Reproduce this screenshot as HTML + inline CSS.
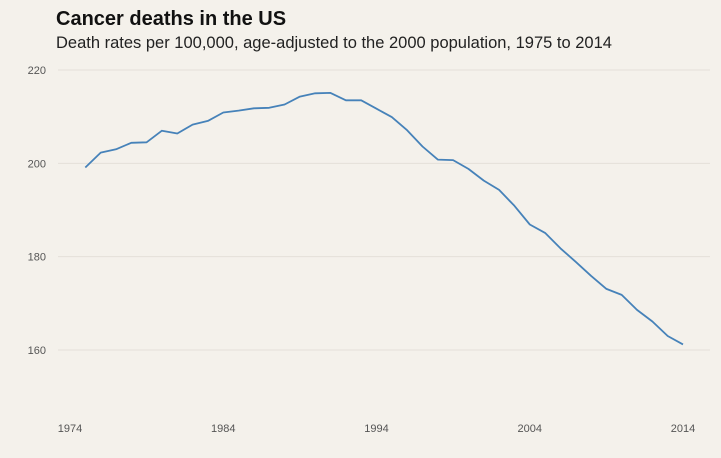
<!DOCTYPE html>
<html><head><meta charset="utf-8"><style>
html,body{margin:0;padding:0;background:#f4f1eb;}
svg{display:block;font-family:"Liberation Sans",sans-serif;}
</style></head><body>
<svg id="chart" width="721" height="458" viewBox="0 0 721 458">
<rect width="721" height="458" fill="#f4f1eb"/>
<text x="56" y="25" font-size="20" font-weight="bold" fill="#111">Cancer deaths in the US</text>
<text x="56" y="48" font-size="16.5" fill="#222">Death rates per 100,000, age-adjusted to the 2000 population, 1975 to 2014</text>
<g id="grid"></g><g id="axes"></g><g id="plot"></g>
</svg>
<script>
const years=[1975,1976,1977,1978,1979,1980,1981,1982,1983,1984,1985,1986,1987,1988,1989,1990,1991,1992,1993,1994,1995,1996,1997,1998,1999,2000,2001,2002,2003,2004,2005,2006,2007,2008,2009,2010,2011,2012,2013,2014];
const rates=[199.1,202.3,203.0,204.4,204.5,207.0,206.4,208.3,209.1,210.9,211.3,211.8,211.9,212.6,214.3,215.0,215.1,213.5,213.5,211.7,209.9,207.1,203.6,200.8,200.7,198.8,196.3,194.3,190.9,186.9,185.1,181.8,178.9,175.9,173.1,171.8,168.6,166.1,163.0,161.2];
const yTicks=[160,180,200,220];
const xTicks=[1974,1984,1994,2004,2014];
const ns="http://www.w3.org/2000/svg";
const xs=y=>70+(y-1974)*(683-70)/40;
const ys=v=>350-(v-160)*(350-70)/60;
const grid=document.getElementById('grid'),axes=document.getElementById('axes'),plot=document.getElementById('plot');
function mk(t,a,p){const e=document.createElementNS(ns,t);for(const k in a)e.setAttribute(k,a[k]);p.appendChild(e);return e;}
yTicks.forEach(v=>{
 const l=mk('line',{x1:58,x2:710,y1:ys(v),y2:ys(v),stroke:'#e4e0d9','stroke-width':1},grid);
 
 
 const t=mk('text',{x:46,y:ys(v)+4,'text-anchor':'end','font-size':11,fill:'#555'},axes);
 t.textContent=v;
 
 
});
xTicks.forEach(y=>{
 const t=mk('text',{x:xs(y),y:432,'text-anchor':'middle','font-size':11,fill:'#555'},axes);
 t.textContent=y;
 
 
});
const p=mk('path',{d:years.map((y,i)=>(i?'L':'M')+xs(y).toFixed(1)+','+ys(rates[i]).toFixed(1)).join(''),fill:'none',stroke:'#4682b9','stroke-width':1.8,'stroke-linejoin':'round'},plot);


</script>
</body></html>
